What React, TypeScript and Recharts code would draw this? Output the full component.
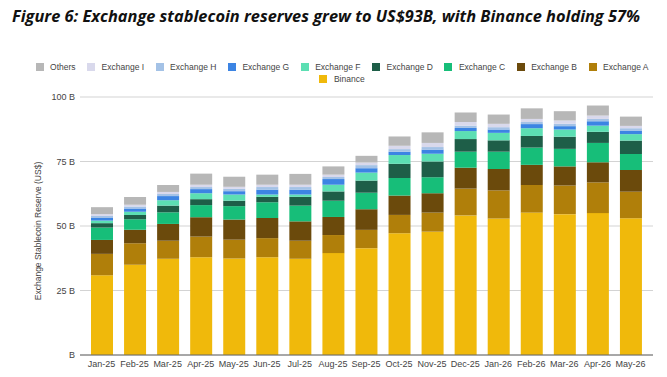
import { BarChart, Bar, XAxis, YAxis, CartesianGrid } from 'recharts';

const months = [
  'Jan-25', 'Feb-25', 'Mar-25', 'Apr-25', 'May-25', 'Jun-25', 'Jul-25', 'Aug-25', 'Sep-25',
  'Oct-25', 'Nov-25', 'Dec-25', 'Jan-26', 'Feb-26', 'Mar-26', 'Apr-26', 'May-26',
];

// reserves in US$ billions, stacked bottom to top
const binance = [30.9, 35.0, 37.3, 37.9, 37.4, 37.9, 37.3, 39.5, 41.4, 47.2, 47.8, 54.1, 52.9, 55.2, 54.6, 55.0, 53.0];
const exchangeA = [8.3, 8.3, 7.0, 8.0, 7.3, 7.4, 7.0, 7.0, 7.1, 7.1, 7.4, 10.4, 10.9, 10.7, 11.1, 11.9, 10.3];
const exchangeB = [5.4, 5.2, 6.5, 7.5, 7.8, 7.8, 7.5, 7.0, 8.0, 7.5, 7.5, 8.1, 8.3, 7.8, 7.4, 7.8, 8.4];
const exchangeC = [4.8, 4.1, 4.5, 4.7, 5.2, 6.1, 6.1, 6.3, 6.4, 6.8, 6.2, 6.2, 6.7, 6.7, 6.8, 7.5, 6.2];
const exchangeD = [1.7, 1.7, 2.6, 2.3, 2.1, 2.1, 3.4, 3.6, 4.7, 5.5, 6.1, 4.9, 4.4, 4.5, 4.7, 4.3, 5.2];
const exchangeF = [1.0, 1.2, 2.1, 2.3, 2.4, 0.9, 0.9, 2.6, 3.1, 3.4, 3.0, 3.1, 2.9, 3.0, 2.8, 2.4, 2.5];
const exchangeG = [1.0, 1.3, 1.6, 1.6, 1.3, 1.9, 1.9, 2.2, 1.7, 1.3, 1.6, 1.2, 1.3, 1.6, 1.3, 1.7, 1.4];
const exchangeH = [0.8, 0.8, 0.8, 0.8, 0.9, 1.0, 1.0, 0.8, 1.2, 1.0, 1.0, 0.9, 0.9, 0.8, 0.9, 0.9, 0.9];
const exchangeI = [0.7, 0.6, 0.8, 0.9, 0.8, 0.9, 0.9, 0.9, 1.0, 1.3, 1.6, 1.4, 1.3, 1.2, 1.3, 1.3, 0.9];
const others = [2.7, 3.0, 2.7, 4.3, 3.9, 3.9, 4.2, 3.2, 2.6, 3.6, 4.1, 3.7, 3.6, 4.1, 3.6, 3.9, 3.6];

const yTicks = [0, 25, 50, 75, 100];

const series = [
  { key: 'Binance', values: binance, color: '#f0b90b' },
  { key: 'Exchange A', values: exchangeA, color: '#b07f0a' },
  { key: 'Exchange B', values: exchangeB, color: '#6b4a0c' },
  { key: 'Exchange C', values: exchangeC, color: '#17be79' },
  { key: 'Exchange D', values: exchangeD, color: '#1e5e48' },
  { key: 'Exchange F', values: exchangeF, color: '#5cdfb3' },
  { key: 'Exchange G', values: exchangeG, color: '#3c84e3' },
  { key: 'Exchange H', values: exchangeH, color: '#a4c2e6' },
  { key: 'Exchange I', values: exchangeI, color: '#d9d9ec' },
  { key: 'Others', values: others, color: '#b7b7b7' },
];

const chartData = months.map((month, i) => {
  const row: Record<string, string | number> = { month };
  series.forEach(s => { row[s.key] = s.values[i]; });
  return row;
});

const font = '"Liberation Sans", Arial, sans-serif';
const tickStyle = { fontSize: 9, fill: '#444', fontFamily: font };

function Legend() {
  // legend lists the top of the stack first
  const items = [...series].reverse();
  return (
    <div style={{
      position: 'absolute', left: 27, top: 61, width: 630,
      display: 'flex', flexWrap: 'wrap', justifyContent: 'center',
      fontFamily: font, fontSize: 8.5, color: '#444', lineHeight: '12px',
    }}>
      {items.map(s => (
        <div key={s.key} style={{ display: 'flex', alignItems: 'center', margin: '0 5.75px' }}>
          <span style={{ width: 8, height: 8, background: s.color, marginRight: 6.5, display: 'inline-block' }} />
          <span>{s.key}</span>
        </div>
      ))}
    </div>
  );
}

export default function App() {
  return (
    <div style={{ position: 'absolute', left: 0, top: 0, width: 667, height: 377, background: '#fff' }}>
      <BarChart
        width={667}
        height={377}
        data={chartData}
        margin={{ top: 97, right: 14, left: 0, bottom: 0 }}
      >
        <CartesianGrid vertical={false} stroke="#d3d3d3" />
        <XAxis
          dataKey="month"
          height={22}
          tickLine={false}
          tickSize={4}
          tickMargin={2}
          axisLine={{ stroke: '#666' }}
          tick={tickStyle}
          interval={0}
          padding={{ left: 5, right: 6 }}
        />
        <YAxis
          width={80}
          domain={[0, 100]}
          ticks={yTicks}
          axisLine={false}
          tickLine={false}
          tickSize={3}
          tickMargin={2}
          tick={tickStyle}
          tickFormatter={(v: number) => (v === 0 ? 'B' : `${v} B`)}
        />
        {series.map(s => (
          <Bar key={s.key} dataKey={s.key} stackId="a" fill={s.color} barSize={22} isAnimationActive={false} />
        ))}
      </BarChart>
      <svg width={667} height={377} style={{ position: 'absolute', left: 0, top: 0, pointerEvents: 'none' }}>
        <text
          x={12}
          y={22}
          textLength={628}
          lengthAdjust="spacingAndGlyphs"
          fontFamily='"Open Sans", sans-serif'
          fontWeight="bold"
          fontStyle="italic"
          fontSize={16}
          fill="#111"
        >
          Figure 6: Exchange stablecoin reserves grew to US$93B, with Binance holding 57%
        </text>
        <text
          x={37.5}
          y={231}
          transform="rotate(-90 37.5 231)"
          textAnchor="middle"
          dominantBaseline="central"
          fontFamily={font}
          fontSize={8.5}
          fill="#444"
        >
          Exchange Stablecoin Reserve (US$)
        </text>
      </svg>
      <Legend />
    </div>
  );
}
